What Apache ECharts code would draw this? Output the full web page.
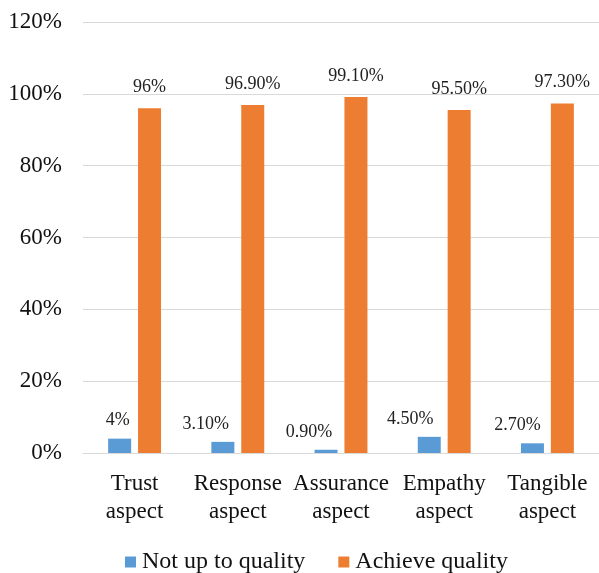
<!DOCTYPE html>
<html>
<head>
<meta charset="utf-8">
<script src="https://cdn.jsdelivr.net/npm/echarts@6/dist/echarts.min.js"></script>
<style>
html,body{margin:0;padding:0;background:#fff;}
#chart{width:599px;height:573px;}
</style>
</head>
<body>
<div id="chart"></div>
<script>
var categories = ['Trust\naspect', 'Response\naspect', 'Assurance\naspect', 'Empathy\naspect', 'Tangible\naspect'];
var notUpValues = [4, 3.1, 0.9, 4.5, 2.7];
var notUpLabels = ['4%', '3.10%', '0.90%', '4.50%', '2.70%'];
var achieveValues = [96, 96.9, 99.1, 95.5, 97.3];
var achieveLabels = ['96%', '96.90%', '99.10%', '95.50%', '97.30%'];
var seriesNames = ['Not up to quality', 'Achieve quality'];

// label nudges (Excel placed the small labels a bit to the left)
var notUpShift = [-2, -17, -17, -19, -15];

var font = '"Liberation Serif", "Times New Roman", serif';

function buildData(values, labels, shift){
    var out = [];
    for(var i = 0; i < values.length; i++){
        var item = {value: values[i], label: {formatter: labels[i]}};
        if(shift){
            item.label.offset = [shift[i], 0];
        }
        out.push(item);
    }
    return out;
}

var myChart = echarts.init(document.getElementById('chart'));
myChart.setOption({
    animation: false,
    textStyle: {fontFamily: font},
    grid: {left: 83, right: 0, top: 22, bottom: 120, containLabel: false},
    legend: {
        data: seriesNames,
        top: 545,
        left: 120,
        itemWidth: 11,
        itemHeight: 11,
        itemGap: 33,
        icon: 'rect',
        textStyle: {fontFamily: font, fontSize: 24, color: '#111', padding: [0, 0, 0, 1]}
    },
    xAxis: {
        type: 'category',
        data: categories,
        axisLine: {show: true, lineStyle: {color: '#d9d9d9', width: 1}},
        axisTick: {show: false},
        axisLabel: {interval: 0, fontFamily: font, fontSize: 23, lineHeight: 28, color: '#111', margin: 17}
    },
    yAxis: {
        type: 'value',
        min: 0,
        max: 120,
        interval: 20,
        axisLine: {show: false},
        axisTick: {show: false},
        splitLine: {lineStyle: {color: '#d9d9d9', width: 1}},
        axisLabel: {formatter: '{value}%', fontFamily: font, fontSize: 23, color: '#111', margin: 21}
    },
    series: [
        {
            name: seriesNames[0],
            type: 'bar',
            barWidth: 23,
            barGap: '30%',
            itemStyle: {color: '#5b9bd5'},
            label: {show: true, position: 'top', distance: 9, fontFamily: font, fontSize: 18, color: '#222'},
            data: buildData(notUpValues, notUpLabels, notUpShift)
        },
        {
            name: seriesNames[1],
            type: 'bar',
            barWidth: 23,
            itemStyle: {color: '#ed7d31'},
            label: {show: true, position: 'top', distance: 12, fontFamily: font, fontSize: 18, color: '#222'},
            data: buildData(achieveValues, achieveLabels)
        }
    ]
});
</script>
</body>
</html>
